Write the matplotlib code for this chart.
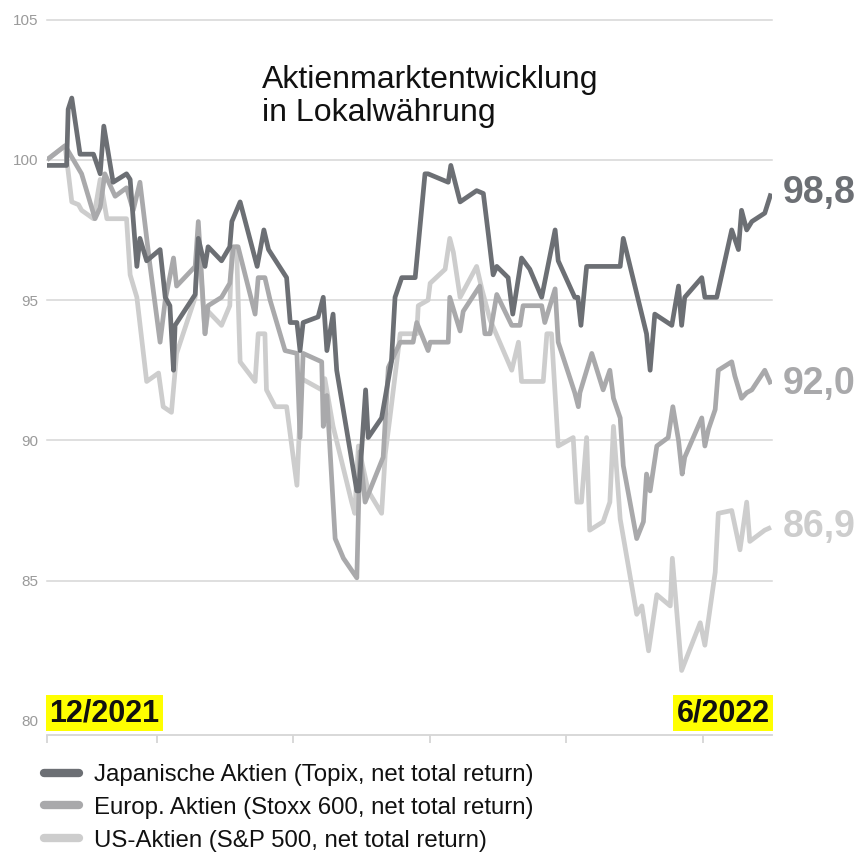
import matplotlib.pyplot as plt
from matplotlib.lines import Line2D

plt.rcParams['font.family'] = ['Liberation Sans', 'DejaVu Sans']

# trading-day index since start of window / index level (start = 100)
japan_days = [0, 3.8, 4.1, 4.8, 6.4, 9.0, 10.3, 11.0, 12.8, 15.4, 16.1, 17.4, 18.0, 19.3, 21.9,
              22.9, 23.8, 24.5, 24.8, 28.7, 29.3, 30.6, 31.2, 33.8, 35.4, 35.8, 37.4, 40.7, 42.0,
              42.9, 46.4, 47.1, 48.4, 49.0, 49.6, 52.5, 53.5, 54.2, 55.4, 56.1, 60.0, 60.4, 61.7,
              62.2, 64.8, 66.7, 67.4, 68.7, 71.3, 73.2, 73.8, 77.7, 78.2, 80.0, 83.2, 84.5, 85.5,
              86.4, 87.1, 89.3, 90.2, 91.9, 93.5, 95.8, 98.4, 99.0, 102.2, 102.8, 103.4, 104.5,
              111.0, 111.6, 116.1, 116.8, 117.7, 121.0, 122.3, 122.9, 123.5, 126.8, 127.4, 129.7,
              132.6, 133.9, 134.5, 135.5, 136.5, 139.0, 140.2]
japan_vals = [99.8, 99.8, 101.8, 102.2, 100.2, 100.2, 99.5, 101.2, 99.2, 99.5, 99.3, 96.2, 97.2,
              96.4, 96.8, 95.1, 94.8, 92.5, 94.1, 95.2, 97.2, 96.2, 96.9, 96.4, 96.9, 97.8, 98.5,
              96.2, 97.5, 96.8, 95.8, 94.2, 94.2, 93.2, 94.2, 94.4, 95.1, 93.2, 94.5, 92.5, 88.2,
              88.2, 91.8, 90.1, 90.8, 92.8, 95.1, 95.8, 95.8, 99.5, 99.5, 99.2, 99.8, 98.5, 98.9,
              98.8, 97.3, 95.9, 96.2, 95.8, 94.5, 96.5, 96.1, 95.1, 97.5, 96.4, 95.1, 95.1, 94.1,
              96.2, 96.2, 97.2, 93.8, 92.5, 94.5, 94.1, 95.5, 94.1, 95.1, 95.8, 95.1, 95.1, 97.5,
              96.8, 98.2, 97.5, 97.8, 98.1, 98.8]

europe_days = [0, 3.5, 6.7, 9.3, 10.3, 11.2, 13.2, 15.4, 16.7, 18.0, 19.9, 21.9, 22.9, 24.5, 25.1,
               28.7, 29.3, 30.6, 31.2, 33.8, 35.4, 36.1, 37.0, 40.3, 40.9, 42.2, 43.2, 46.1, 48.4,
               49.0, 49.6, 53.2, 53.5, 54.2, 55.8, 57.4, 60.0, 60.6, 61.6, 65.1, 66.1, 68.4, 70.9,
               71.6, 73.8, 74.2, 77.7, 78.0, 80.0, 80.6, 83.8, 84.8, 85.8, 87.1, 90.0, 91.6, 92.2,
               95.8, 96.4, 98.4, 99.0, 102.2, 102.9, 103.2, 105.5, 107.7, 109.0, 109.7, 111.0,
               111.6, 114.2, 115.5, 116.1, 116.8, 118.1, 120.3, 121.2, 122.3, 123.0, 123.5, 126.8,
               127.4, 128.1, 129.4, 130.0, 132.6, 133.2, 134.5, 135.5, 136.5, 139.0, 140.2]
europe_vals = [100.0, 100.5, 99.5, 97.9, 98.3, 99.5, 98.7, 99.0, 98.2, 99.2, 96.3, 93.5, 95.0,
               96.5, 95.5, 96.2, 97.8, 93.8, 94.8, 95.1, 95.6, 96.9, 96.9, 94.5, 95.8, 95.8, 95.0,
               93.2, 93.1, 90.1, 93.1, 92.8, 90.5, 91.6, 86.5, 85.8, 85.1, 89.6, 87.8, 89.4, 92.6,
               93.5, 93.5, 94.2, 93.2, 93.5, 93.5, 95.1, 93.9, 94.6, 95.5, 93.8, 93.8, 95.2, 94.1,
               94.1, 94.8, 94.8, 94.2, 95.4, 93.5, 91.7, 91.2, 91.7, 93.1, 91.8, 92.5, 91.5, 90.8,
               89.1, 86.5, 87.1, 88.8, 88.2, 89.8, 90.1, 91.2, 90.0, 88.8, 89.4, 90.8, 89.8, 90.4,
               91.1, 92.5, 92.8, 92.3, 91.5, 91.7, 91.8, 92.5, 92.0]

us_days = [0, 3.5, 4.8, 6.1, 6.7, 9.0, 10.3, 11.6, 15.4, 16.1, 17.4, 19.3, 21.6, 22.5, 24.1, 25.1,
           28.7, 29.3, 30.6, 31.2, 33.8, 35.4, 35.8, 36.7, 37.4, 40.3, 40.9, 42.2, 42.5, 44.2,
           46.4, 48.4, 49.3, 53.2, 53.8, 55.4, 59.0, 59.6, 60.3, 62.2, 64.8, 65.5, 66.4, 68.4,
           71.6, 71.9, 73.8, 74.2, 77.1, 78.0, 78.7, 80.0, 83.2, 84.2, 85.8, 90.0, 91.3, 91.9,
           96.1, 96.8, 97.7, 99.0, 101.9, 102.6, 103.5, 104.5, 105.1, 107.7, 109.0, 109.7, 111.0,
           114.2, 115.2, 116.5, 118.1, 120.7, 121.1, 122.9, 126.5, 127.4, 129.4, 130.0, 132.6,
           134.2, 135.5, 136.1, 139.0, 140.2]
us_vals = [100.0, 100.5, 98.5, 98.4, 98.2, 97.9, 99.3, 97.9, 97.9, 95.9, 95.1, 92.1, 92.4, 91.2,
           91.0, 93.1, 95.1, 97.3, 93.8, 94.6, 94.1, 94.8, 96.8, 96.9, 92.8, 92.1, 93.8, 93.8,
           91.8, 91.2, 91.2, 88.4, 92.2, 91.8, 92.2, 90.5, 87.8, 87.4, 89.8, 88.2, 87.4, 89.5,
           90.8, 93.8, 93.8, 94.8, 95.0, 95.6, 96.1, 97.2, 96.7, 95.1, 96.2, 95.4, 94.3, 92.5,
           93.5, 92.1, 92.1, 93.8, 93.8, 89.8, 90.1, 87.8, 87.8, 90.1, 86.8, 87.1, 87.8, 90.5,
           87.2, 83.8, 84.1, 82.5, 84.5, 84.1, 85.8, 81.8, 83.5, 82.7, 85.3, 87.4, 87.5, 86.1,
           87.8, 86.4, 86.8, 86.9]

series_labels = ["Japanische Aktien (Topix, net total return)",
                 "Europ. Aktien (Stoxx 600, net total return)",
                 "US-Aktien (S&P 500, net total return)"]
end_labels = ["98,8", "92,0", "86,9"]
yticks = [80, 85, 90, 95, 100, 105]
xticks = [0, 21.3, 47.7, 74.2, 100.6, 127.0]

colors = ["#6c6f74", "#a9a9ab", "#cdcdcd"]
grid_c = "#d6d6d6"

fig = plt.figure(figsize=(8.6, 8.55), dpi=100)
W, H = 860, 855
ax = fig.add_axes([47 / W, 1 - 735 / H, (772 - 47) / W, (735 - 19.5) / H])

series = [(japan_days, japan_vals), (europe_days, europe_vals), (us_days, us_vals)]
zorders = [4, 3, 2]
for (d, v), c, z, lab in zip(series, colors, zorders, end_labels):
    ax.plot(d, v, color=c, lw=3.4, zorder=z, solid_joinstyle="round", solid_capstyle="butt")
    ax.annotate(lab, xy=(d[-1], v[-1]), xytext=(8.5, 0), textcoords="offset points",
                ha="left", va="center", fontsize=27, fontweight="bold", color=c,
                annotation_clip=False)

ax.set_xlim(0, 140.4)
ax.set_ylim(79.5, 105)
ax.set_yticks(yticks)
ax.set_yticklabels([str(t) for t in yticks])
ax.set_xticks(xticks)
ax.set_xticklabels([])
ax.yaxis.grid(True, color=grid_c, lw=1.1)
ax.get_ygridlines()[0].set_visible(False)
for gl in ax.get_ygridlines():
    gl.set_clip_on(False)
ax.tick_params(axis="y", length=0, pad=6, labelsize=11, labelcolor="#9a9a9a")
ax.tick_params(axis="x", length=6, width=1.3, color=grid_c, direction="out")
for s in ["top", "right", "left"]:
    ax.spines[s].set_visible(False)
ax.spines["bottom"].set_color(grid_c)
ax.spines["bottom"].set_linewidth(1.3)
ax.set_axisbelow(True)

# date range markers
box = dict(facecolor="#ffff00", edgecolor="none", pad=2.2)
fig.text(49.5 / W, 1 - 721 / H, "12/2021", ha="left", va="baseline", fontsize=22,
         fontweight="bold", color="#111111", bbox=box)
fig.text(769.5 / W, 1 - 721 / H, "6/2022", ha="right", va="baseline", fontsize=22,
         fontweight="bold", color="#111111", bbox=box)

fig.text(262 / W, 1 - 88 / H, "Aktienmarktentwicklung", fontsize=23, va="baseline", color="#111111")
fig.text(262 / W, 1 - 121 / H, "in Lokalwährung", fontsize=23, va="baseline", color="#111111")

handles = [Line2D([], [], color=c, lw=6, solid_capstyle="round") for c in colors]
fig.legend(handles, series_labels, loc="upper left", bbox_to_anchor=(44 / W, 1 - 764 / H),
           frameon=False, fontsize=17.3, borderpad=0, borderaxespad=0, handlelength=1.45,
           handletextpad=0.65, labelspacing=0.45, labelcolor="#111111")

fig.savefig("out.png", dpi=100)
